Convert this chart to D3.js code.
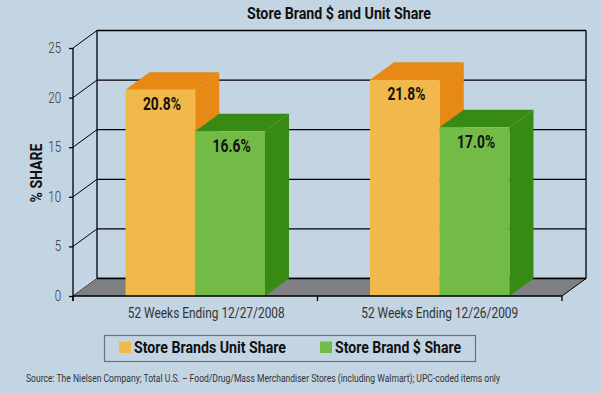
<!DOCTYPE html>
<html>
<head>
<meta charset="utf-8">
<script src="https://cdnjs.cloudflare.com/ajax/libs/d3/7.8.5/d3.min.js"></script>
<style>
  body { margin: 0; background: #c3d4e2; }
  svg { display: block; }
  text { font-family: Roboto, "DejaVu Sans", sans-serif; }
</style>
</head>
<body>
<script>
// chart data
var categories = ["52 Weeks Ending 12/27/2008", "52 Weeks Ending 12/26/2009"];
var seriesNames = ["Store Brands Unit Share", "Store Brand $ Share"];
var unitShare = [20.8, 21.8];
var dollarShare = [16.6, 17.0];
var yTicks = [0, 5, 10, 15, 20, 25];

var w = 601, h = 393;
var plotLeft = 73, plotRight = 562, plotTop = 48, plotBottom = 296;
var dx = 24, dy = -17.5;

var fronts = ["#f1b84b", "#73bb47"];
var shades = ["#e68915", "#378b15"];

var svg = d3.select("body").append("svg")
    .attr("width", w)
    .attr("height", h);

// squeeze text to a condensed look
function squeeze(sel, factor) {
    sel.each(function() {
        var len = this.getComputedTextLength();
        d3.select(this).attr("textLength", len * factor).attr("lengthAdjust", "spacingAndGlyphs");
    });
}

var x = d3.scaleBand().domain(categories).range([plotLeft, plotRight]);
var inner = d3.scaleBand().domain([0, 1]).range([0, x.bandwidth()]).paddingOuter(0.753).paddingInner(0);
var y = d3.scaleLinear().domain([0, 25]).range([plotBottom, plotTop]);

// back wall grid lines
svg.selectAll("line.grid")
    .data(yTicks)
    .enter()
    .append("line")
    .attr("x1", plotLeft + dx).attr("x2", plotRight + dx)
    .attr("y1", function(d) { return y(d) + dy; })
    .attr("y2", function(d) { return y(d) + dy; })
    .attr("stroke", "#000").attr("stroke-width", 1.3);

// side wall diagonals
svg.selectAll("line.diag")
    .data(yTicks)
    .enter()
    .append("line")
    .attr("x1", plotLeft).attr("x2", plotLeft + dx)
    .attr("y1", function(d) { return y(d); })
    .attr("y2", function(d) { return y(d) + dy; })
    .attr("stroke", "#000").attr("stroke-width", 1);

// back verticals
svg.append("line").attr("x1", plotLeft + dx).attr("x2", plotLeft + dx)
    .attr("y1", y(0) + dy).attr("y2", y(25) + dy).attr("stroke", "#000").attr("stroke-width", 1.3);
svg.append("line").attr("x1", plotRight + dx).attr("x2", plotRight + dx)
    .attr("y1", y(0) + dy).attr("y2", y(25) + dy).attr("stroke", "#000").attr("stroke-width", 1.3);

// floor
svg.append("path")
    .attr("d", "M" + plotLeft + "," + y(0) + "L" + (plotLeft + dx) + "," + (y(0) + dy) +
        "L" + (plotRight + dx) + "," + (y(0) + dy) + "L" + plotRight + "," + y(0) + "Z")
    .attr("fill", "#7f8083");
svg.append("line").attr("x1", plotLeft + dx).attr("x2", plotRight + dx)
    .attr("y1", y(0) + dy).attr("y2", y(0) + dy).attr("stroke", "#000").attr("stroke-width", 1.3);
svg.append("line").attr("x1", plotRight).attr("x2", plotRight + dx)
    .attr("y1", y(0)).attr("y2", y(0) + dy).attr("stroke", "#000").attr("stroke-width", 1);

// bars
var bars = [];
categories.forEach(function(c, i) {
    bars.push({cat: c, s: 0, v: unitShare[i]});
    bars.push({cat: c, s: 1, v: dollarShare[i]});
});

var g = svg.selectAll("g.bar")
    .data(bars)
    .enter()
    .append("g");

function bx(d) { return x(d.cat) + inner(d.s); }
var bw = inner.bandwidth();

// side face
g.append("path")
    .attr("d", function(d) {
        var x1 = bx(d) + bw;
        return "M" + x1 + "," + y(d.v) + "L" + (x1 + dx) + "," + (y(d.v) + dy) +
            "L" + (x1 + dx) + "," + (y(0) + dy) + "L" + x1 + "," + y(0) + "Z";
    })
    .attr("fill", function(d) { return shades[d.s]; });
// top face
g.append("path")
    .attr("d", function(d) {
        var x0 = bx(d);
        return "M" + x0 + "," + y(d.v) + "L" + (x0 + dx) + "," + (y(d.v) + dy) +
            "L" + (x0 + bw + dx) + "," + (y(d.v) + dy) + "L" + (x0 + bw) + "," + y(d.v) + "Z";
    })
    .attr("fill", function(d) { return shades[d.s]; });
// front face
g.append("rect")
    .attr("x", bx)
    .attr("y", function(d) { return y(d.v); })
    .attr("width", bw)
    .attr("height", function(d) { return y(0) - y(d.v); })
    .attr("fill", function(d) { return fronts[d.s]; });

g.append("text")
    .attr("x", function(d) { return bx(d) + bw / 2 + 1.5; })
    .attr("y", function(d) { return y(d.v) + 20.5; })
    .attr("text-anchor", "middle")
    .attr("font-size", 18)
    .attr("font-weight", "bold")
    .attr("fill", "#111")
    .attr("textLength", 38).attr("lengthAdjust", "spacingAndGlyphs")
    .text(function(d) { return d.v.toFixed(1) + "%"; });

// front axes
svg.append("line").attr("x1", plotLeft).attr("x2", plotLeft)
    .attr("y1", y(25)).attr("y2", y(0) + 5).attr("stroke", "#000").attr("stroke-width", 1.3);
svg.append("line").attr("x1", plotLeft).attr("x2", plotRight)
    .attr("y1", y(0)).attr("y2", y(0)).attr("stroke", "#000").attr("stroke-width", 1.3);

var yAxis = d3.axisLeft(y).tickValues(yTicks).tickSize(4).tickPadding(8);
var ya = svg.append("g").attr("transform", "translate(" + plotLeft + ",0)").call(yAxis);
ya.select(".domain").remove();
ya.selectAll("line").attr("stroke-width", 1.3);
ya.selectAll("text").attr("font-size", 14).attr("fill", "#333")
    .style("font-family", "Roboto, sans-serif").attr("font-weight", 300);
squeeze(ya.selectAll("text"), 0.82);

var xTickPos = [plotLeft, plotLeft + x.bandwidth(), plotRight];
svg.selectAll("line.xt")
    .data(xTickPos)
    .enter()
    .append("line")
    .attr("x1", function(d) { return d; }).attr("x2", function(d) { return d; })
    .attr("y1", y(0)).attr("y2", y(0) + 5)
    .attr("stroke", "#000").attr("stroke-width", 1.3);

var xl = svg.selectAll("text.xl")
    .data(categories)
    .enter()
    .append("text")
    .attr("x", function(d, i) { return x(d) + x.bandwidth() / 2 + (i === 0 ? 11 : 0); })
    .attr("y", 318)
    .attr("text-anchor", "middle")
    .attr("font-size", 15)
    .attr("fill", "#333")
    .attr("textLength", 157).attr("lengthAdjust", "spacingAndGlyphs")
    .text(function(d) { return d; });

// title
svg.append("text")
    .attr("x", 339).attr("y", 19)
    .attr("text-anchor", "middle")
    .attr("font-size", 16)
    .attr("font-weight", "bold")
    .attr("fill", "#111")
    .attr("textLength", 184).attr("lengthAdjust", "spacingAndGlyphs")
    .text("Store Brand $ and Unit Share");

svg.append("text")
    .attr("transform", "translate(41.5,173) rotate(-90)")
    .attr("text-anchor", "middle")
    .attr("font-size", 17)
    .attr("font-weight", "bold")
    .attr("fill", "#111")
    .attr("textLength", 59).attr("lengthAdjust", "spacingAndGlyphs")
    .text("% SHARE");

// legend
svg.append("rect")
    .attr("x", 104.5).attr("y", 335.5).attr("width", 371).attr("height", 26)
    .attr("fill", "none").attr("stroke", "#6f7174").attr("stroke-width", 1.2);

var legX = [119, 320];
var legLen = [152, 126];
var lg = svg.selectAll("g.leg")
    .data(seriesNames)
    .enter()
    .append("g")
    .attr("transform", function(d, i) { return "translate(" + legX[i] + ",341.5)"; });
lg.append("rect").attr("width", 12).attr("height", 11.5)
    .attr("fill", function(d, i) { return fronts[i]; });
lg.append("text").attr("x", 15).attr("y", 11.3)
    .attr("font-size", 17).attr("font-weight", "bold").attr("fill", "#111")
    .attr("textLength", function(d, i) { return legLen[i]; }).attr("lengthAdjust", "spacingAndGlyphs")
    .text(function(d) { return d; });

svg.append("text")
    .attr("x", 26).attr("y", 382)
    .attr("font-size", 10)
    .attr("fill", "#333")
    .attr("textLength", 474).attr("lengthAdjust", "spacingAndGlyphs")
    .text("Source: The Nielsen Company; Total U.S. \u2013 Food/Drug/Mass Merchandiser Stores (including Walmart); UPC-coded items only");
</script>
</body>
</html>
